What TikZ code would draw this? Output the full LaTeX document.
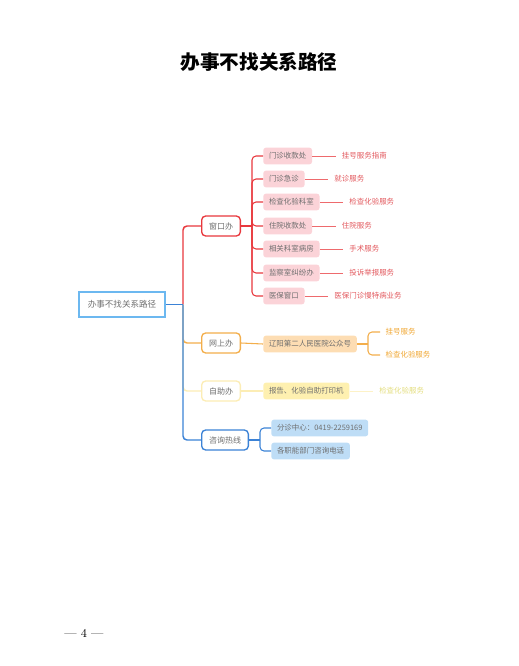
\documentclass[tikz,border=0pt]{standalone}
\usepackage{fontspec}
\newfontfamily\cjk{Noto Sans CJK SC}
\usetikzlibrary{positioning}
\definecolor{rootblue}{HTML}{6CB8F0}
\definecolor{winred}{HTML}{E8383D}
\definecolor{winpink}{HTML}{FBD3D8}
\definecolor{leafred}{HTML}{E2595E}
\definecolor{netorange}{HTML}{F3AE4B}
\definecolor{netfill}{HTML}{FDDDB3}
\definecolor{leaforange}{HTML}{F0A733}
\definecolor{selfyellow}{HTML}{FCEDB5}
\definecolor{selffill}{HTML}{FEF0B0}
\definecolor{leafyellow}{HTML}{E3DD7E}
\definecolor{hotblue}{HTML}{3B82D6}
\definecolor{hotfill}{HTML}{BEDDF6}
\definecolor{boxtext}{HTML}{6E6E6E}
\tikzset{
  txt/.style={font=\cjk\fontsize{5.6}{6.5}\selectfont},
  rootbox/.style={draw=rootblue, line width=1.5pt, minimum width=64.5pt, minimum height=18.5pt,
    text=boxtext, font=\cjk\fontsize{6.4}{7.5}\selectfont},
  catbox/.style={draw=#1, fill=white, line width=1pt, rounded corners=3pt, minimum height=15pt,
    inner xsep=5.5pt, text=boxtext, font=\cjk\fontsize{6}{7}\selectfont, anchor=west},
  subbox/.style={fill=#1, rounded corners=2pt, minimum height=12.5pt, inner xsep=4.3pt,
    text=boxtext, txt, anchor=west},
  leaf/.style={text=#1, txt, inner sep=1pt},
  trunk/.style={draw=#1, line width=1.1pt, rounded corners=3pt},
  twig/.style={draw=#1, line width=0.8pt, rounded corners=3pt},
  leafline/.style={draw=#1!75, line width=0.6pt},
}
\begin{document}
\begin{tikzpicture}[x=0.75pt, y=-0.75pt]
  \useasboundingbox (0,0) rectangle (518,666);
  % TITLE
  \node (title) at (259,62) {\cjk\bfseries\fontsize{14.7}{16}\selectfont 办事不找关系路径};
  % ROOT
  \node[rootbox] (root) at (122,304.5) {办事不找关系路径};
  \coordinate (trunk) at (183,304.5);
  % BRANCH 1 (red): counters
  \node[catbox=winred] (win) at (201,226) {窗口办};
  \coordinate (winfork) at (252,226);
  \node[subbox=winpink] (win1) at (263,156) {门诊收款处};
  \node[subbox=winpink] (win2) at (263,179) {门诊急诊};
  \node[subbox=winpink] (win3) at (263,202) {检查化验科室};
  \node[subbox=winpink] (win4) at (263,226) {住院收款处};
  \node[subbox=winpink] (win5) at (263,249) {相关科室病房};
  \node[subbox=winpink] (win6) at (263,273) {监察室纠纷办};
  \node[subbox=winpink] (win7) at (263,296) {医保窗口};
  \node[leaf=leafred, right=21pt of win1] (winleaf1) {挂号服务指南};
  \node[leaf=leafred, right=21pt of win2] (winleaf2) {就诊服务};
  \node[leaf=leafred, right=21pt of win3] (winleaf3) {检查化验服务};
  \node[leaf=leafred, right=21pt of win4] (winleaf4) {住院服务};
  \node[leaf=leafred, right=21pt of win5] (winleaf5) {手术服务};
  \node[leaf=leafred, right=21pt of win6] (winleaf6) {投诉举报服务};
  \node[leaf=leafred, right=21pt of win7] (winleaf7) {医保门诊慢特病业务};
  % BRANCH 2 (orange): online
  \node[catbox=netorange] (net) at (201,343) {网上办};
  \node[subbox=netfill] (net1) at (263,344) {辽阳第二人民医院公众号};
  \coordinate (netfork) at (368,344);
  \node[leaf=leaforange, anchor=west] (netleaf1) at (384,332) {挂号服务};
  \node[leaf=leaforange, anchor=west] (netleaf2) at (384,355) {检查化验服务};
  % BRANCH 3 (yellow): self service
  \node[catbox=selfyellow] (self) at (201,391) {自助办};
  \node[subbox=selffill] (self1) at (263,391) {报告、化验自助打印机};
  \node[leaf=leafyellow, right=21pt of self1] (selfleaf1) {检查化验服务};
  % BRANCH 4 (blue): hotline
  \node[catbox=hotblue] (hot) at (201,440) {咨询热线};
  \coordinate (hotfork) at (260,440);
  \node[subbox=hotfill] (hot1) at (271,428) {分诊中心：0419-2259169};
  \node[subbox=hotfill] (hot2) at (271,451) {各职能部门咨询电话};
  % connectors
  \draw[trunk=winred] (trunk) |- (win.west);
  \draw[trunk=winred] (win.east) -- (winfork);
  \foreach \k in {1,...,7} {
    \draw[twig=winred] (winfork) |- (win\k.west);
    \draw[leafline=winred, shorten >=3.5pt] (win\k.east) -- (winleaf\k.west);
  }
  \draw[trunk=netorange] (trunk) |- (net.west);
  \draw[twig=netorange] (net.east) -- (net1.west);
  \draw[twig=netorange] (net1.east) -- (netfork);
  \draw[twig=netorange, shorten >=3pt] (netfork) |- (netleaf1.west);
  \draw[twig=netorange, shorten >=3pt] (netfork) |- (netleaf2.west);
  \draw[trunk=selfyellow] (trunk) |- (self.west);
  \draw[twig=selfyellow] (self.east) -- (self1.west);
  \draw[leafline=selfyellow, shorten >=3.5pt] (self1.east) -- (selfleaf1.west);
  \draw[trunk=hotblue, rounded corners=0pt] (root.east) -- (trunk);
  \draw[trunk=hotblue] (trunk) |- (hot.west);
  \draw[twig=hotblue] (hot.east) -- (hotfork);
  \draw[twig=hotblue] (hotfork) |- (hot1.west);
  \draw[twig=hotblue] (hotfork) |- (hot2.west);
  % PAGE NUMBER
  \node (page) at (84,633) {\fontsize{9}{10}\selectfont --- 4 ---};
\end{tikzpicture}
\end{document}
